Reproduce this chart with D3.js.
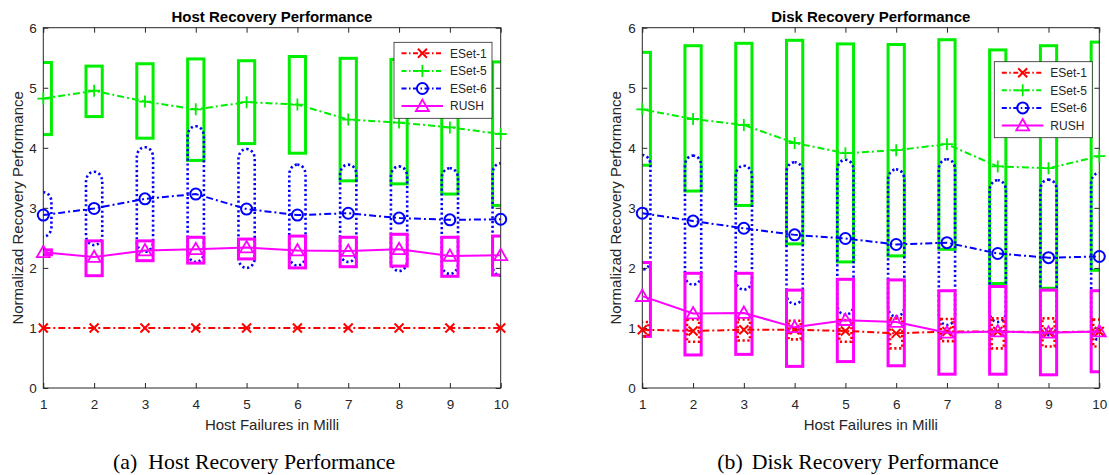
<!DOCTYPE html>
<html>
<head>
<meta charset="utf-8">
<script src="https://cdn.jsdelivr.net/npm/d3@7"></script>
<style>
  body { margin: 0; background: #fff; }
  text { font-family: "Liberation Sans", Arial, sans-serif; }
</style>
</head>
<body>
<script>
// data
const failures = [1, 2, 3, 4, 5, 6, 7, 8, 9, 10];
const xTickValues = [1, 2, 3, 4, 5, 6, 7, 8, 9, 10];
const yTickValues = [0, 1, 2, 3, 4, 5, 6];
const seriesNames = ['ESet-1', 'ESet-5', 'ESet-6', 'RUSH'];

// host recovery
const hostESet1 = [1, 1, 1, 1, 1, 1, 1, 1, 1, 1];
const hostESet5 = [4.82, 4.95, 4.77, 4.64, 4.76, 4.72, 4.47, 4.42, 4.34, 4.23];
const hostESet6 = [2.88, 2.99, 3.15, 3.23, 2.98, 2.88, 2.91, 2.83, 2.80, 2.81];
const hostRUSH = [2.26, 2.18, 2.29, 2.31, 2.34, 2.29, 2.28, 2.31, 2.20, 2.21];
const hostESet5Max = [5.42, 5.36, 5.40, 5.48, 5.45, 5.52, 5.49, 5.47, 5.45, 5.43];
const hostESet5Min = [4.22, 4.52, 4.16, 3.79, 4.07, 3.91, 3.45, 3.40, 3.23, 3.04];
const hostESet6Max = [3.26, 3.60, 4.01, 4.36, 3.98, 3.72, 3.72, 3.69, 3.66, 3.74];
const hostESet6Min = [2.52, 2.38, 2.27, 2.10, 2.00, 2.04, 2.10, 1.95, 1.90, 1.87];
const hostRUSHMax = [2.30, 2.45, 2.45, 2.51, 2.48, 2.53, 2.51, 2.56, 2.51, 2.53];
const hostRUSHMin = [2.22, 1.87, 2.12, 2.08, 2.15, 2.00, 2.02, 2.03, 1.86, 1.88];

// disk recovery
const diskESet1 = [0.97, 0.95, 0.97, 0.97, 0.95, 0.91, 0.94, 0.94, 0.93, 0.94];
const diskESet5 = [4.64, 4.48, 4.38, 4.08, 3.91, 3.96, 4.06, 3.69, 3.66, 3.86];
const diskESet6 = [2.91, 2.78, 2.66, 2.55, 2.49, 2.39, 2.42, 2.24, 2.17, 2.19];
const diskRUSH = [1.53, 1.24, 1.25, 1.01, 1.13, 1.10, 0.92, 0.94, 0.92, 0.94];
const diskESet1Max = [1.10, 1.14, 1.14, 1.12, 1.13, 1.16, 1.15, 1.16, 1.16, 1.14];
const diskESet1Min = [0.86, 0.77, 0.79, 0.81, 0.77, 0.66, 0.78, 0.66, 0.69, 0.69];
const diskESet5Max = [5.59, 5.70, 5.74, 5.79, 5.73, 5.72, 5.80, 5.63, 5.70, 5.76];
const diskESet5Min = [3.71, 3.28, 3.04, 2.40, 2.10, 2.20, 2.31, 1.74, 1.66, 1.96];
const diskESet6Max = [3.88, 3.87, 3.70, 3.76, 3.80, 3.64, 3.81, 3.46, 3.47, 3.58];
const diskESet6Min = [1.97, 1.72, 1.64, 1.40, 1.22, 1.19, 1.05, 1.10, 0.88, 0.80];
const diskRUSHMax = [2.09, 1.91, 1.91, 1.63, 1.81, 1.80, 1.62, 1.69, 1.63, 1.62];
const diskRUSHMin = [0.86, 0.55, 0.56, 0.36, 0.44, 0.37, 0.23, 0.23, 0.22, 0.27];

const styles = {
  'ESet-1': {color: '#ff0000', dash: '7,3,2,3', marker: 'x', boxDash: '2.2,2.6', half: 0.12, rounded: false},
  'ESet-5': {color: '#00ee00', dash: '7,3,2,3', marker: '+', boxDash: null, half: 0.16, rounded: false},
  'ESet-6': {color: '#0000ff', dash: '7,3,2,3', marker: 'o', boxDash: '2.2,2.6', half: 0.16, rounded: true},
  'RUSH':   {color: '#ff00ff', dash: null, marker: '^', boxDash: null, half: 0.16, rounded: false}
};
const boxOrder = ['ESet-5', 'ESet-6', 'RUSH', 'ESet-1'];

const panels = [
  {
    id: 'host', left: 43.3, right: 500.7, title: 'Host Recovery Performance',
    caption: ['(a)', 'Host Recovery Performance'], capX: [113, 148.3],
    ylabelX: 22.5, legend: [394, 42.3],
    values: {'ESet-1': hostESet1, 'ESet-5': hostESet5, 'ESet-6': hostESet6, 'RUSH': hostRUSH},
    boxes: {
      'ESet-5': [hostESet5Min, hostESet5Max],
      'ESet-6': [hostESet6Min, hostESet6Max],
      'RUSH': [hostRUSHMin, hostRUSHMax]
    }
  },
  {
    id: 'disk', left: 642.3, right: 1099.3, title: 'Disk Recovery Performance',
    caption: ['(b)', 'Disk Recovery Performance'], capX: [717.3, 751.7],
    ylabelX: 620.7, legend: [994.3, 61.7],
    values: {'ESet-1': diskESet1, 'ESet-5': diskESet5, 'ESet-6': diskESet6, 'RUSH': diskRUSH},
    boxes: {
      'ESet-5': [diskESet5Min, diskESet5Max],
      'ESet-6': [diskESet6Min, diskESet6Max],
      'RUSH': [diskRUSHMin, diskRUSHMax],
      'ESet-1': [diskESet1Min, diskESet1Max]
    }
  }
];

const [width, height] = [1109, 475];
const [plotTop, plotBottom] = [27.7, 388];
const axisColor = '#262626';

const svg = d3.select('body').append('svg')
  .attr('width', width)
  .attr('height', height);

function drawMarker(g, type, x, y, color) {
  if (type === 'x') {
    const s = 4.5;
    g.append('path').attr('d', `M${x - s},${y - s}L${x + s},${y + s}M${x - s},${y + s}L${x + s},${y - s}`)
      .attr('stroke', color).attr('stroke-width', 2);
  } else if (type === '+') {
    const s = 6;
    g.append('path').attr('d', `M${x - s},${y}L${x + s},${y}M${x},${y - s}L${x},${y + s}`)
      .attr('stroke', color).attr('stroke-width', 1.8);
  } else if (type === 'o') {
    g.append('circle').attr('cx', x).attr('cy', y).attr('r', 5.5)
      .attr('fill', 'none').attr('stroke', color).attr('stroke-width', 2);
  } else {
    const s = 6.5;
    g.append('path').attr('d', `M${x},${y - s}L${x + s},${y + s * 0.75}L${x - s},${y + s * 0.75}Z`)
      .attr('fill', 'none').attr('stroke', color).attr('stroke-width', 1.8);
  }
}

panels.forEach(p => {
  const x = d3.scaleLinear().domain([1, 10]).range([p.left, p.right]);
  const y = d3.scaleLinear().domain([0, 6]).range([plotBottom, plotTop]);
  const g = svg.append('g').attr('class', p.id);

  g.append('clipPath').attr('id', `clip-${p.id}`)
    .append('rect')
    .attr('x', p.left).attr('y', 0)
    .attr('width', p.right - p.left).attr('height', height);

  // range boxes
  const boxes = g.append('g').attr('clip-path', `url(#clip-${p.id})`);
  boxOrder.filter(name => p.boxes[name]).forEach(name => {
    const st = styles[name];
    const [lo, hi] = p.boxes[name];
    boxes.selectAll(null)
      .data(failures.map((f, i) => ({f, lo: lo[i], hi: hi[i]})))
      .enter()
      .append('rect')
      .attr('x', d => x(d.f - st.half))
      .attr('y', d => y(d.hi))
      .attr('width', d => x(d.f + st.half) - x(d.f - st.half))
      .attr('height', d => y(d.lo) - y(d.hi))
      .attr('rx', st.rounded ? 8 : 0)
      .attr('ry', st.rounded ? 10 : 0)
      .attr('fill', 'none')
      .attr('stroke', st.color)
      .attr('stroke-width', st.boxDash ? 2.6 : 3)
      .attr('stroke-dasharray', st.boxDash);
  });

  // axes box with inward ticks
  g.append('rect')
    .attr('x', p.left).attr('y', plotTop)
    .attr('width', p.right - p.left).attr('height', plotBottom - plotTop)
    .attr('fill', 'none').attr('stroke', axisColor).attr('stroke-width', 1);

  const fontTick = '13.5px';
  const xAxis = g.append('g').attr('transform', `translate(0,${plotBottom})`)
    .call(d3.axisBottom(x).tickValues(xTickValues).tickFormat(d3.format('d'))
      .tickSizeInner(-5).tickSizeOuter(0).tickPadding(11.5));
  const xAxisTop = g.append('g').attr('transform', `translate(0,${plotTop})`)
    .call(d3.axisTop(x).tickValues(xTickValues).tickSizeInner(-5).tickSizeOuter(0).tickFormat(''));
  const yAxis = g.append('g').attr('transform', `translate(${p.left},0)`)
    .call(d3.axisLeft(y).tickValues(yTickValues).tickFormat(d3.format('d'))
      .tickSizeInner(-5).tickSizeOuter(0).tickPadding(6.5));
  const yAxisRight = g.append('g').attr('transform', `translate(${p.right},0)`)
    .call(d3.axisRight(y).tickValues(yTickValues).tickSizeInner(-5).tickSizeOuter(0).tickFormat(''));
  [xAxis, xAxisTop, yAxis, yAxisRight].forEach(a => {
    a.select('.domain').remove();
    a.selectAll('line').attr('stroke', axisColor);
    a.selectAll('text').attr('fill', axisColor)
      .style('font-size', fontTick)
      .style('font-family', '"Liberation Sans", Arial, sans-serif');
  });

  // series lines and markers
  seriesNames.forEach(name => {
    const st = styles[name];
    const vals = p.values[name];
    const line = d3.line().x((d, i) => x(failures[i])).y(d => y(d));
    g.append('path')
      .attr('d', line(vals))
      .attr('fill', 'none')
      .attr('stroke', st.color)
      .attr('stroke-width', 2)
      .attr('stroke-dasharray', st.dash);
    const mg = g.append('g');
    vals.forEach((v, i) => drawMarker(mg, st.marker, x(failures[i]), y(v), st.color));
  });

  // titles and labels
  const cx = (p.left + p.right) / 2;
  g.append('text').attr('x', cx).attr('y', 21.8)
    .attr('text-anchor', 'middle')
    .style('font-size', '15px').style('font-weight', 'bold')
    .text(p.title);
  g.append('text').attr('x', cx).attr('y', 430)
    .attr('text-anchor', 'middle').attr('fill', axisColor)
    .style('font-size', '15px')
    .text('Host Failures in Milli');
  g.append('text')
    .attr('transform', `translate(${p.ylabelX},${(plotTop + plotBottom) / 2}) rotate(-90)`)
    .attr('text-anchor', 'middle').attr('fill', axisColor)
    .style('font-size', '15px')
    .text('Normalizad Recovery Performance');

  // legend
  const [lx, ly] = p.legend;
  const lg = g.append('g').attr('transform', `translate(${lx},${ly})`);
  lg.append('rect').attr('width', 98).attr('height', 76)
    .attr('fill', '#fff').attr('stroke', axisColor).attr('stroke-width', 0.8);
  seriesNames.forEach((name, i) => {
    const st = styles[name];
    const ry = 11 + i * 17.6;
    lg.append('line').attr('x1', 7.5).attr('x2', 49).attr('y1', ry).attr('y2', ry)
      .attr('stroke', st.color).attr('stroke-width', 2)
      .attr('stroke-dasharray', st.dash ? '5,2.5,1.5,2.5' : null);
    drawMarker(lg, st.marker, 28.4, ry, st.color);
    lg.append('text').attr('x', 56).attr('y', ry + 4.3)
      .style('font-size', '12px').attr('fill', axisColor)
      .text(name);
  });

  // sub caption
  const cap = g.append('text').attr('y', 469.3)
    .style('font-family', '"Liberation Serif", "Times New Roman", serif')
    .style('font-size', '21.8px');
  cap.append('tspan').attr('x', p.capX[0]).text(p.caption[0]);
  cap.append('tspan').attr('x', p.capX[1]).text(p.caption[1]);
});
</script>
</body>
</html>
